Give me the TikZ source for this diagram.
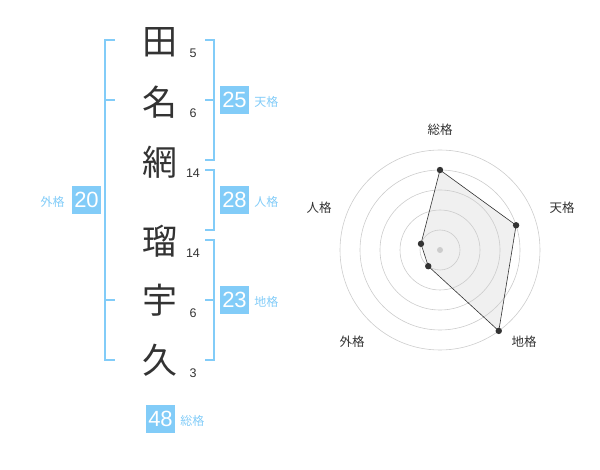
\documentclass[tikz,border=0pt]{standalone}
\usepackage{fontspec}
\setmainfont{Liberation Sans}
\newfontfamily\jp{Noto Sans CJK JP}
\usepackage{tikz}
\usetikzlibrary{positioning}
\definecolor{kakublue}{HTML}{82CCF8}
\definecolor{inkgray}{HTML}{333333}

\begin{document}
\begin{tikzpicture}[x=1pt,y=-1pt]
		\tikzstyle{kanji}=[font=\jp\fontsize{35}{35}\selectfont,text=inkgray,inner sep=0pt]
		\tikzstyle{stroke}=[font=\fontsize{12.5}{12.5}\selectfont,text=inkgray,inner sep=0pt]
		\tikzstyle{kaku}=[fill=kakublue,text=white,font=\fontsize{22}{22}\selectfont,minimum width=29pt,minimum height=28pt,inner sep=0pt]
		\tikzstyle{kakuname}=[text=kakublue,font=\jp\fontsize{12}{12}\selectfont,inner sep=0pt,yshift=-2pt]
		\tikzstyle{bracket}=[draw=kakublue,line width=2pt]
		\tikzstyle{axis}=[font=\jp\fontsize{12.5}{12.5}\selectfont,text=inkgray,inner sep=0pt]
		
		\useasboundingbox (0,0) rectangle (600,470);
		
		% name and strokes
		\node[kanji]  (c_1) at (160,42)  {田};
		\node[kanji]  (c_2) at (160,102) {名};
		\node[kanji]  (c_3) at (160,162) {網};
		\node[kanji]  (c_4) at (160,241) {瑠};
		\node[kanji]  (c_5) at (160,300) {宇};
		\node[kanji]  (c_6) at (160,360) {久};
		\node[stroke] (s_1) at (193,53)  {5};
		\node[stroke] (s_2) at (193,113) {6};
		\node[stroke] (s_3) at (193,173) {14};
		\node[stroke] (s_4) at (193,253) {14};
		\node[stroke] (s_5) at (193,313) {6};
		\node[stroke] (s_6) at (193,373) {3};
		
		% brackets
		\draw[bracket] (115,40) -| (105,360) -- (115,360);
		\draw[bracket] (105,100) -- (115,100);
		\draw[bracket] (105,300) -- (115,300);
		\draw[bracket] (205,40) -| (214,160) -- (205,160);
		\draw[bracket] (205,100) -- (214,100);
		\draw[bracket] (205,170) -| (214,230) -- (205,230);
		\draw[bracket] (205,240) -| (214,360) -- (205,360);
		\draw[bracket] (205,300) -- (214,300);
		
		% fortune boxes
		\node[kaku] (ten)   at (234.5,100) {25};
		\node[kaku] (jin)   at (234.5,200) {28};
		\node[kaku] (chi)   at (234.5,300) {23};
		\node[kaku] (gai)   at (86.5,200)  {20};
		\node[kaku] (sou)   at (160.5,419) {48};
		\node[kakuname] (ten_l) [right=5pt of ten] {天格};
		\node[kakuname] (jin_l) [right=5pt of jin] {人格};
		\node[kakuname] (chi_l) [right=5pt of chi] {地格};
		\node[kakuname] (gai_l) [left=7pt of gai]  {外格};
		\node[kakuname] (sou_l) [right=5pt of sou] {総格};
		
		% radar
		\coordinate (o) at (440,250);
		\path (o) ++(90:80pt)   coordinate (p_1)
		      (o) ++(18:80pt)   coordinate (p_2)
		      (o) ++(-54:100pt) coordinate (p_3)
		      (o) ++(-126:20pt) coordinate (p_4)
		      (o) ++(162:20pt)  coordinate (p_5);
		\fill[black!6] (p_1) -- (p_2) -- (p_3) -- (p_4) -- (p_5) -- cycle;
		\foreach \r in {20,40,60,80,100}
		\draw[black!20,line width=0.6pt] (o) circle[radius=\r pt];
		\fill[black!20] (o) circle[radius=3pt];
		\draw[inkgray,line width=0.6pt] (p_1) -- (p_2) -- (p_3) -- (p_4) -- (p_5) -- cycle;
		\foreach \p in {p_1,p_2,p_3,p_4,p_5}
		\fill[inkgray] (\p) circle[radius=3.2pt];
		
		\node[axis] (a_1) at (440,130) {総格};
		\node[axis] (a_2) at (562,208) {天格};
		\node[axis] (a_3) at (524,342) {地格};
		\node[axis] (a_4) at (352,342) {外格};
		\node[axis] (a_5) at (319,208) {人格};
		
\end{tikzpicture}
\end{document}
